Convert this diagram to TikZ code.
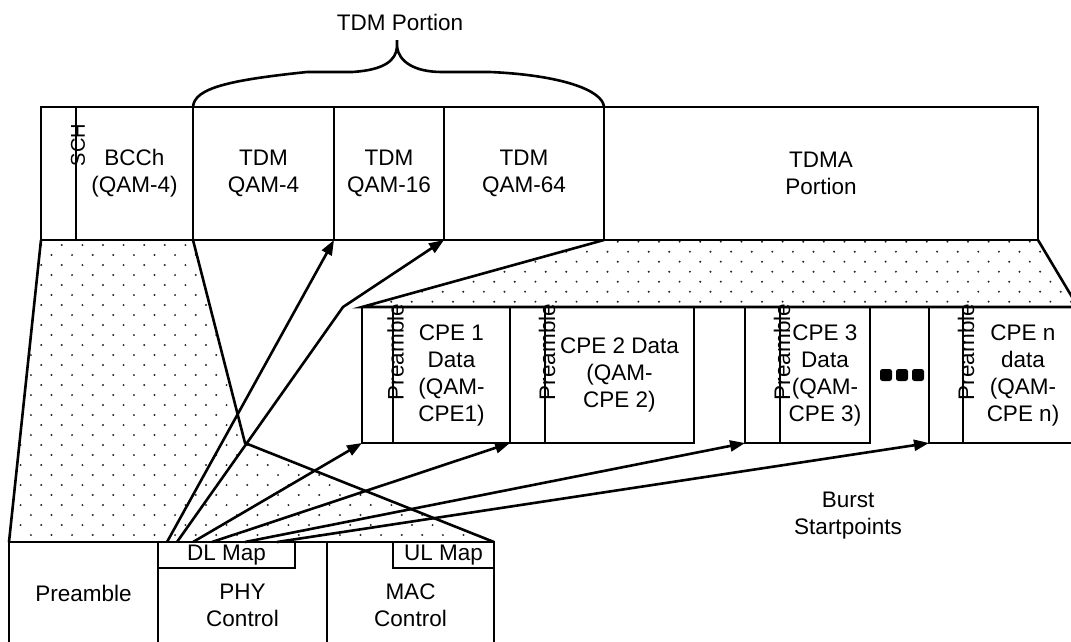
\documentclass[tikz,border=0pt]{standalone}
\usepackage{fontspec}
\setmainfont{Liberation Sans}
\usetikzlibrary{arrows.meta,calc}
\begin{document}
\begin{tikzpicture}[x=1pt,y=-1pt,
  lw/.style={line width=2.6pt},
  box/.style={draw, lw, inner sep=0pt, outer sep=0pt, align=center, font=\fontsize{22.5}{27}\selectfont, fill=white, anchor=north west},
  txt/.style={inner sep=0pt, align=center, font=\fontsize{22.5}{27}\selectfont},
  arr/.style={lw, -{Triangle[length=15pt,width=11pt]}},
  dotc/.style={fill=black!85}]
\useasboundingbox (0,0) rectangle (1071,641);
\fill[white] (0,0) rectangle (1071,641);
\clip (0,0) rectangle (1071,641);

% dotted fills
\begin{scope}
\clip (41,240)--(193,240)--(245,443)--(494,542)--(9,542)--cycle;
\foreach \r in {0,...,30}{\foreach \c in {0,...,25}{
  \fill[dotc] ({\c*20.6+mod(\r,2)*10.3},{245+\r*10}) circle (1.1pt);}}
\end{scope}
\begin{scope}
\clip (604,240)--(1038,240)--(1078,307)--(362,307)--cycle;
\foreach \r in {0,...,7}{\foreach \c in {0,...,36}{
  \fill[dotc] ({350+\c*20.6+mod(\r,2)*10.3},{241.7+\r*10}) circle (1.1pt);}}
\end{scope}

% top row
\node[box, minimum width=35pt, minimum height=133pt] (sch) at (41,107) {};
\node[box, minimum width=117pt, minimum height=133pt] (bcch) at (76,107) {BCCh\\(QAM-4)};
\node[box, minimum width=141pt, minimum height=133pt] (tdmA) at (193,107) {TDM\\QAM-4};
\node[box, minimum width=110pt, minimum height=133pt] (tdmB) at (334,107) {TDM\\QAM-16};
\node[box, minimum width=160pt, minimum height=133pt] (tdmC) at (444,107) {TDM\\QAM-64};
\node[box, minimum width=434pt, minimum height=133pt] (tdma) at (604,107) {TDMA\\Portion};
\node[txt, rotate=90, font=\fontsize{20}{24}\selectfont] (schlbl) at (78,145) {SCH};

% brace
\node[txt] (tdmport) at (400,22) {TDM Portion};
\coordinate (btip) at (397,47);
\draw[lw, line join=round] (tdmA.north west) .. controls (194,88) and (230,80) .. (307,72)
  -- (352,72) .. controls (385,70) and (396,60) .. (btip) -- (397,40);
\draw[lw, line join=round] (btip) .. controls (399,62) and (415,72) .. (442,72)
  -- (490,72) .. controls (560,75) and (603,90) .. (tdmC.north east);

% bottom row
\node[box, minimum width=149pt, minimum height=130pt] (bpre) at (9,542) {};
\node[txt] (bpretxt) at (83.5,593) {Preamble};
\node[box, minimum width=169pt, minimum height=127pt] (phy) at (158,542) {PHY\\Control};
\node[box, minimum width=167pt, minimum height=127pt] (mac) at (327,542) {MAC\\Control};
\node[box, minimum width=137pt, minimum height=26pt] (dl) at (158,542) {DL Map};
\node[box, anchor=north east, minimum width=101pt, minimum height=26pt] (ul) at (494,542) {UL Map};

% trapezoid edges
\coordinate (apex) at (245,443);
\draw[lw] (sch.south west) -- (bpre.north west);
\draw[lw, line join=round] (bcch.south east) -- (apex) -- (mac.north east);

% CPE row
\node[box, minimum width=31pt, minimum height=136pt] (c1p) at (362,307) {};
\node[box, minimum width=117pt, minimum height=136pt] (c1) at (393,307) {CPE 1\\Data\\(QAM-\\CPE1)};
\node[box, minimum width=35pt, minimum height=136pt] (c2p) at (510,307) {};
\node[box, minimum width=149pt, minimum height=136pt] (c2) at (545,307) {CPE 2 Data\\(QAM-\\CPE 2)};
\node[box, minimum width=35pt, minimum height=136pt] (c3p) at (745,307) {};
\node[box, minimum width=90pt, minimum height=136pt] (c3) at (780,307) {CPE 3\\Data\\(QAM-\\CPE 3)};
\node[box, minimum width=34pt, minimum height=136pt] (cnp) at (929,307) {};
\node[box, minimum width=120pt, minimum height=136pt] (cn) at (963,307) {CPE n\\data\\(QAM-\\CPE n)};
\draw[lw] (tdmC.south east) -- (c1p.north west) -- (1090,307);
\coordinate (bandend) at (1078,307);
\draw[lw] (tdma.south east) -- (bandend);

\node[txt, rotate=90] (p1) at (395.5,352) {Preamble};
\node[txt, rotate=90] (p2) at (547,352) {Preamble};
\node[txt, rotate=90] (p3) at (782,352) {Preamble};
\node[txt, rotate=90] (pn) at (966,352) {Preamble};

% ellipsis
\foreach \x in {886,902,918}{\fill[rounded corners=2.5pt] (\x-6,369) rectangle (\x+6,381);}

% arrows
\coordinate (bend) at (343,307);
\draw[arr] ($(dl.north west)+(9,0)$) -- (tdmA.south east);
\draw[arr] ($(dl.north west)+(19,0)$) -- (bend) -- (tdmB.south east);
\draw[arr] ($(dl.north west)+(35,0)$) -- (c1p.south west);
\draw[arr] ($(dl.north west)+(54,0)$) -- (c2p.south west);
\draw[arr] ($(dl.north west)+(87,0)$) -- (c3p.south west);
\draw[arr] ($(dl.north west)+(119,0)$) -- (cnp.south west);

\node[txt] (burst) at (848,516) {Burst\\Startpoints};
\end{tikzpicture}
\end{document}
